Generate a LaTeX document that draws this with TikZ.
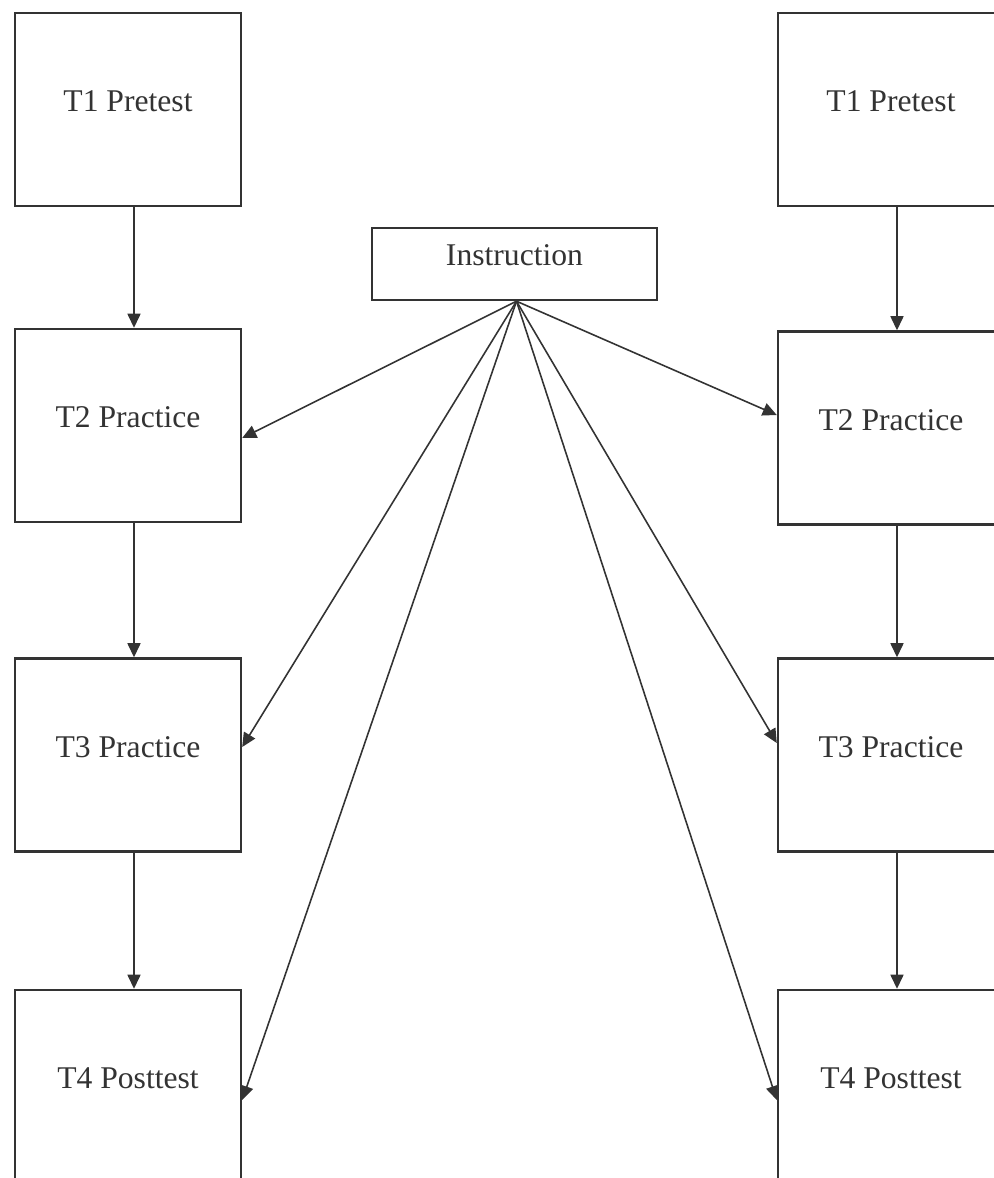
\documentclass[tikz,border=0pt]{standalone}
\usepackage{fontspec}
\setmainfont{Liberation Serif}
\usepackage{xcolor}
\usepackage{tikz}
\usetikzlibrary{arrows.meta, positioning, calc}

\definecolor{inkgray}{HTML}{333333}

\tikzset{
  testbox/.style={draw=inkgray, line width=1.4pt, minimum width=4.52cm, minimum height=3.86cm,
    text depth=0.32cm, text=inkgray, font=\fontsize{18}{22}\selectfont},
  instrbox/.style={draw=inkgray, line width=1.4pt, minimum width=5.7cm, minimum height=1.44cm,
    text depth=0.36cm, text=inkgray, font=\fontsize{18}{22}\selectfont},
  link/.style={draw=inkgray, line width=0.9pt, -{Triangle[length=8pt, width=7.4pt]}}
}

\begin{document}
\begin{tikzpicture}[x=0.02cm, y=-0.02cm]
  \clip (0,0) rectangle (994,1178);
  % left column
  \node[testbox] (L1) at (128, 109.5)  {T1 Pretest};
  \node[testbox] (L2) at (128, 425.5)  {T2 Practice};
  \node[testbox] (L3) at (128, 755)    {T3 Practice};
  \node[testbox] (L4) at (128, 1086.5) {T4 Posttest};
  % right column
  \node[testbox] (R1) at (891, 109.5)  {T1 Pretest};
  \node[testbox] (R2) at (891, 428)    {T2 Practice};
  \node[testbox] (R3) at (891, 755)    {T3 Practice};
  \node[testbox] (R4) at (891, 1086.5) {T4 Posttest};
  % instruction
  \node[instrbox] (instr) at (514.5, 264) {Instruction};
  \coordinate (src) at ([xshift=0.04cm]instr.south);

  \foreach \a/\b in {L1/L2, L2/L3, L3/L4, R1/R2, R2/R3, R3/R4}
    \draw[link] ([xshift=0.12cm]\a.south) -- ([xshift=0.12cm]\b.north);

  \draw[link] (src) -- ([yshift=-0.25cm]L2.east);
  \draw[link] (src) -- ([yshift=0.16cm]L3.east);
  \draw[link] (src) -- ([yshift=-0.27cm]L4.east);
  \draw[link] (src) -- ([yshift=0.26cm]R2.west);
  \draw[link] (src) -- ([yshift=0.24cm]R3.west);
  \draw[link] (src) -- ([yshift=-0.27cm]R4.west);
\end{tikzpicture}
\end{document}
